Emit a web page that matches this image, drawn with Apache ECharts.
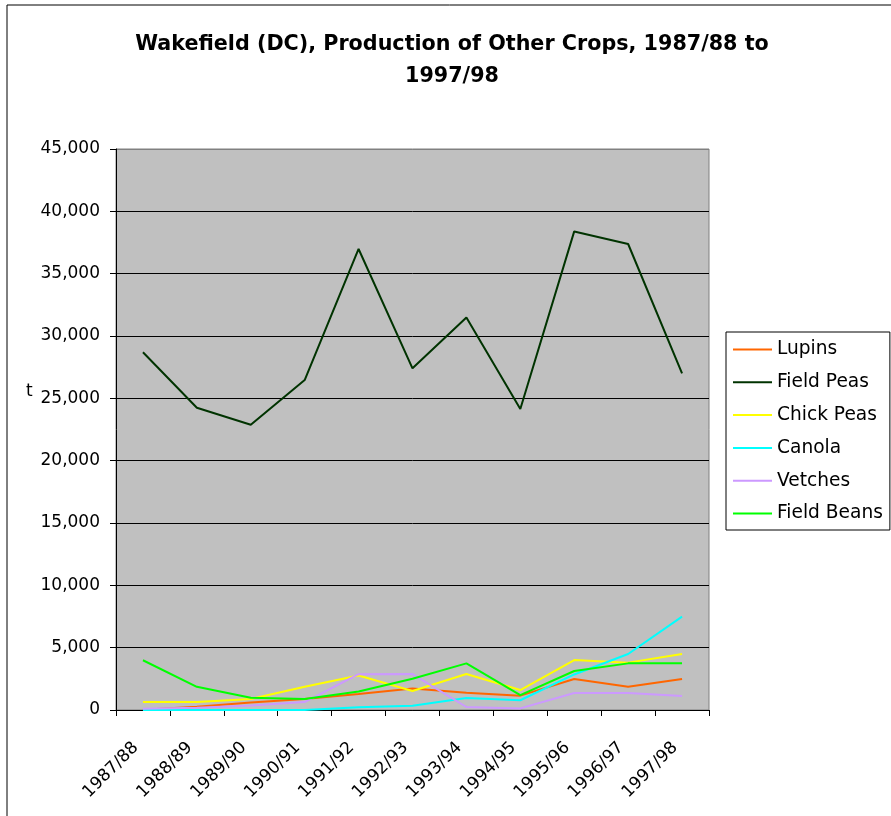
<!DOCTYPE html>
<html>
<head>
<meta charset="utf-8">
<script src="https://cdn.jsdelivr.net/npm/echarts@6/dist/echarts.min.js"></script>
<style>
html,body{margin:0;padding:0;background:#fff;}
#chart{width:891px;height:816px;}
</style>
</head>
<body>
<div id="chart"></div>
<script>
var categories = ['1987/88','1988/89','1989/90','1990/91','1991/92','1992/93','1993/94','1994/95','1995/96','1996/97','1997/98'];
var lupins     = [30, 270, 610, 880, 1280, 1730, 1390, 1150, 2490, 1870, 2490];
var fieldPeas  = [28700, 24250, 22880, 26470, 36980, 27410, 31480, 24140, 38390, 37380, 27000];
var chickPeas  = [640, 640, 880, 1860, 2770, 1520, 2890, 1600, 4010, 3800, 4490];
var canola     = [0, 0, 0, 0, 220, 340, 960, 780, 2850, 4490, 7490];
var vetches    = [110, 190, 370, 640, 2870, 2880, 240, 130, 1360, 1360, 1120];
var fieldBeans = [3990, 1860, 980, 880, 1490, 2500, 3740, 1200, 3130, 3740, 3740];
var seriesNames = ['Lupins','Field Peas','Chick Peas','Canola','Vetches','Field Beans'];
var seriesColors = ['#FF6600','#003300','#FFFF00','#00FFFF','#CC99FF','#00FF00'];
var seriesData = [lupins, fieldPeas, chickPeas, canola, vetches, fieldBeans];
var titleText = 'Wakefield (DC), Production of Other Crops, 1987/88 to\n1997/98';
var yName = 't';

var FONT = 'DejaVu Sans';
var chart = echarts.init(document.getElementById('chart'));

function fmt(v){ return String(v).replace(/\B(?=(\d{3})+(?!\d))/g, ','); }

var gridColors = [];
for (var i = 0; i < 9; i++) gridColors.push('#000000');
gridColors.push('#808080');

var option = {
  backgroundColor: '#ffffff',
  animation: false,
  title: {
    text: titleText,
    left: 452,
    top: 29,
    padding: 0,
    textAlign: 'center',
    textStyle: { fontFamily: FONT, fontWeight: 'bold', fontSize: 20.7, lineHeight: 32, color: '#000' }
  },
  graphic: [
    { type: 'rect', shape: { x: 7, y: 5, width: 950, height: 900 }, style: { fill: 'none', stroke: '#000', lineWidth: 1 }, silent: true },
    { type: 'text', left: 26, top: 383, style: { text: yName, fontFamily: FONT, fontSize: 17, fill: '#000' } }
  ],
  legend: {
    orient: 'vertical',
    left: 726,
    top: 332,
    padding: [8, 7, 7, 7],
    itemGap: 13.8,
    itemWidth: 39,
    itemHeight: 2,
    icon: 'rect',
    borderColor: '#000',
    borderWidth: 1,
    backgroundColor: '#fff',
    data: seriesNames,
    textStyle: { fontFamily: FONT, fontSize: 18.6, color: '#000' }
  },
  grid: {
    left: 116, right: 182, top: 149, bottom: 106,
    show: true,
    backgroundColor: '#C0C0C0',
    borderColor: '#808080',
    borderWidth: 1
  },
  xAxis: {
    type: 'category',
    data: categories,
    boundaryGap: true,
    axisLine: { lineStyle: { color: '#000', width: 1 } },
    axisTick: { show: true, length: 6, alignWithLabel: false, lineStyle: { color: '#000' } },
    axisLabel: { rotate: 45, margin: 28, padding: [0, 10, 0, 0], interval: 0, fontFamily: FONT, fontSize: 17, color: '#000' },
    splitLine: { show: false }
  },
  yAxis: {
    type: 'value',
    min: 0, max: 45000, interval: 5000,
    axisLine: { show: true, lineStyle: { color: '#000', width: 1 } },
    axisTick: { show: true, length: 6, lineStyle: { color: '#000' } },
    axisLabel: { margin: 16, fontFamily: FONT, fontSize: 17, color: '#000', formatter: fmt },
    splitLine: { show: true, lineStyle: { color: gridColors, width: 1 } }
  },
  series: seriesNames.map(function(n, i){
    return {
      name: n,
      type: 'line',
      data: seriesData[i],
      showSymbol: false,
      symbol: 'none',
      color: seriesColors[i],
      lineStyle: { color: seriesColors[i], width: 2 },
      itemStyle: { color: seriesColors[i] }
    };
  })
};
chart.setOption(option);
</script>
</body>
</html>
